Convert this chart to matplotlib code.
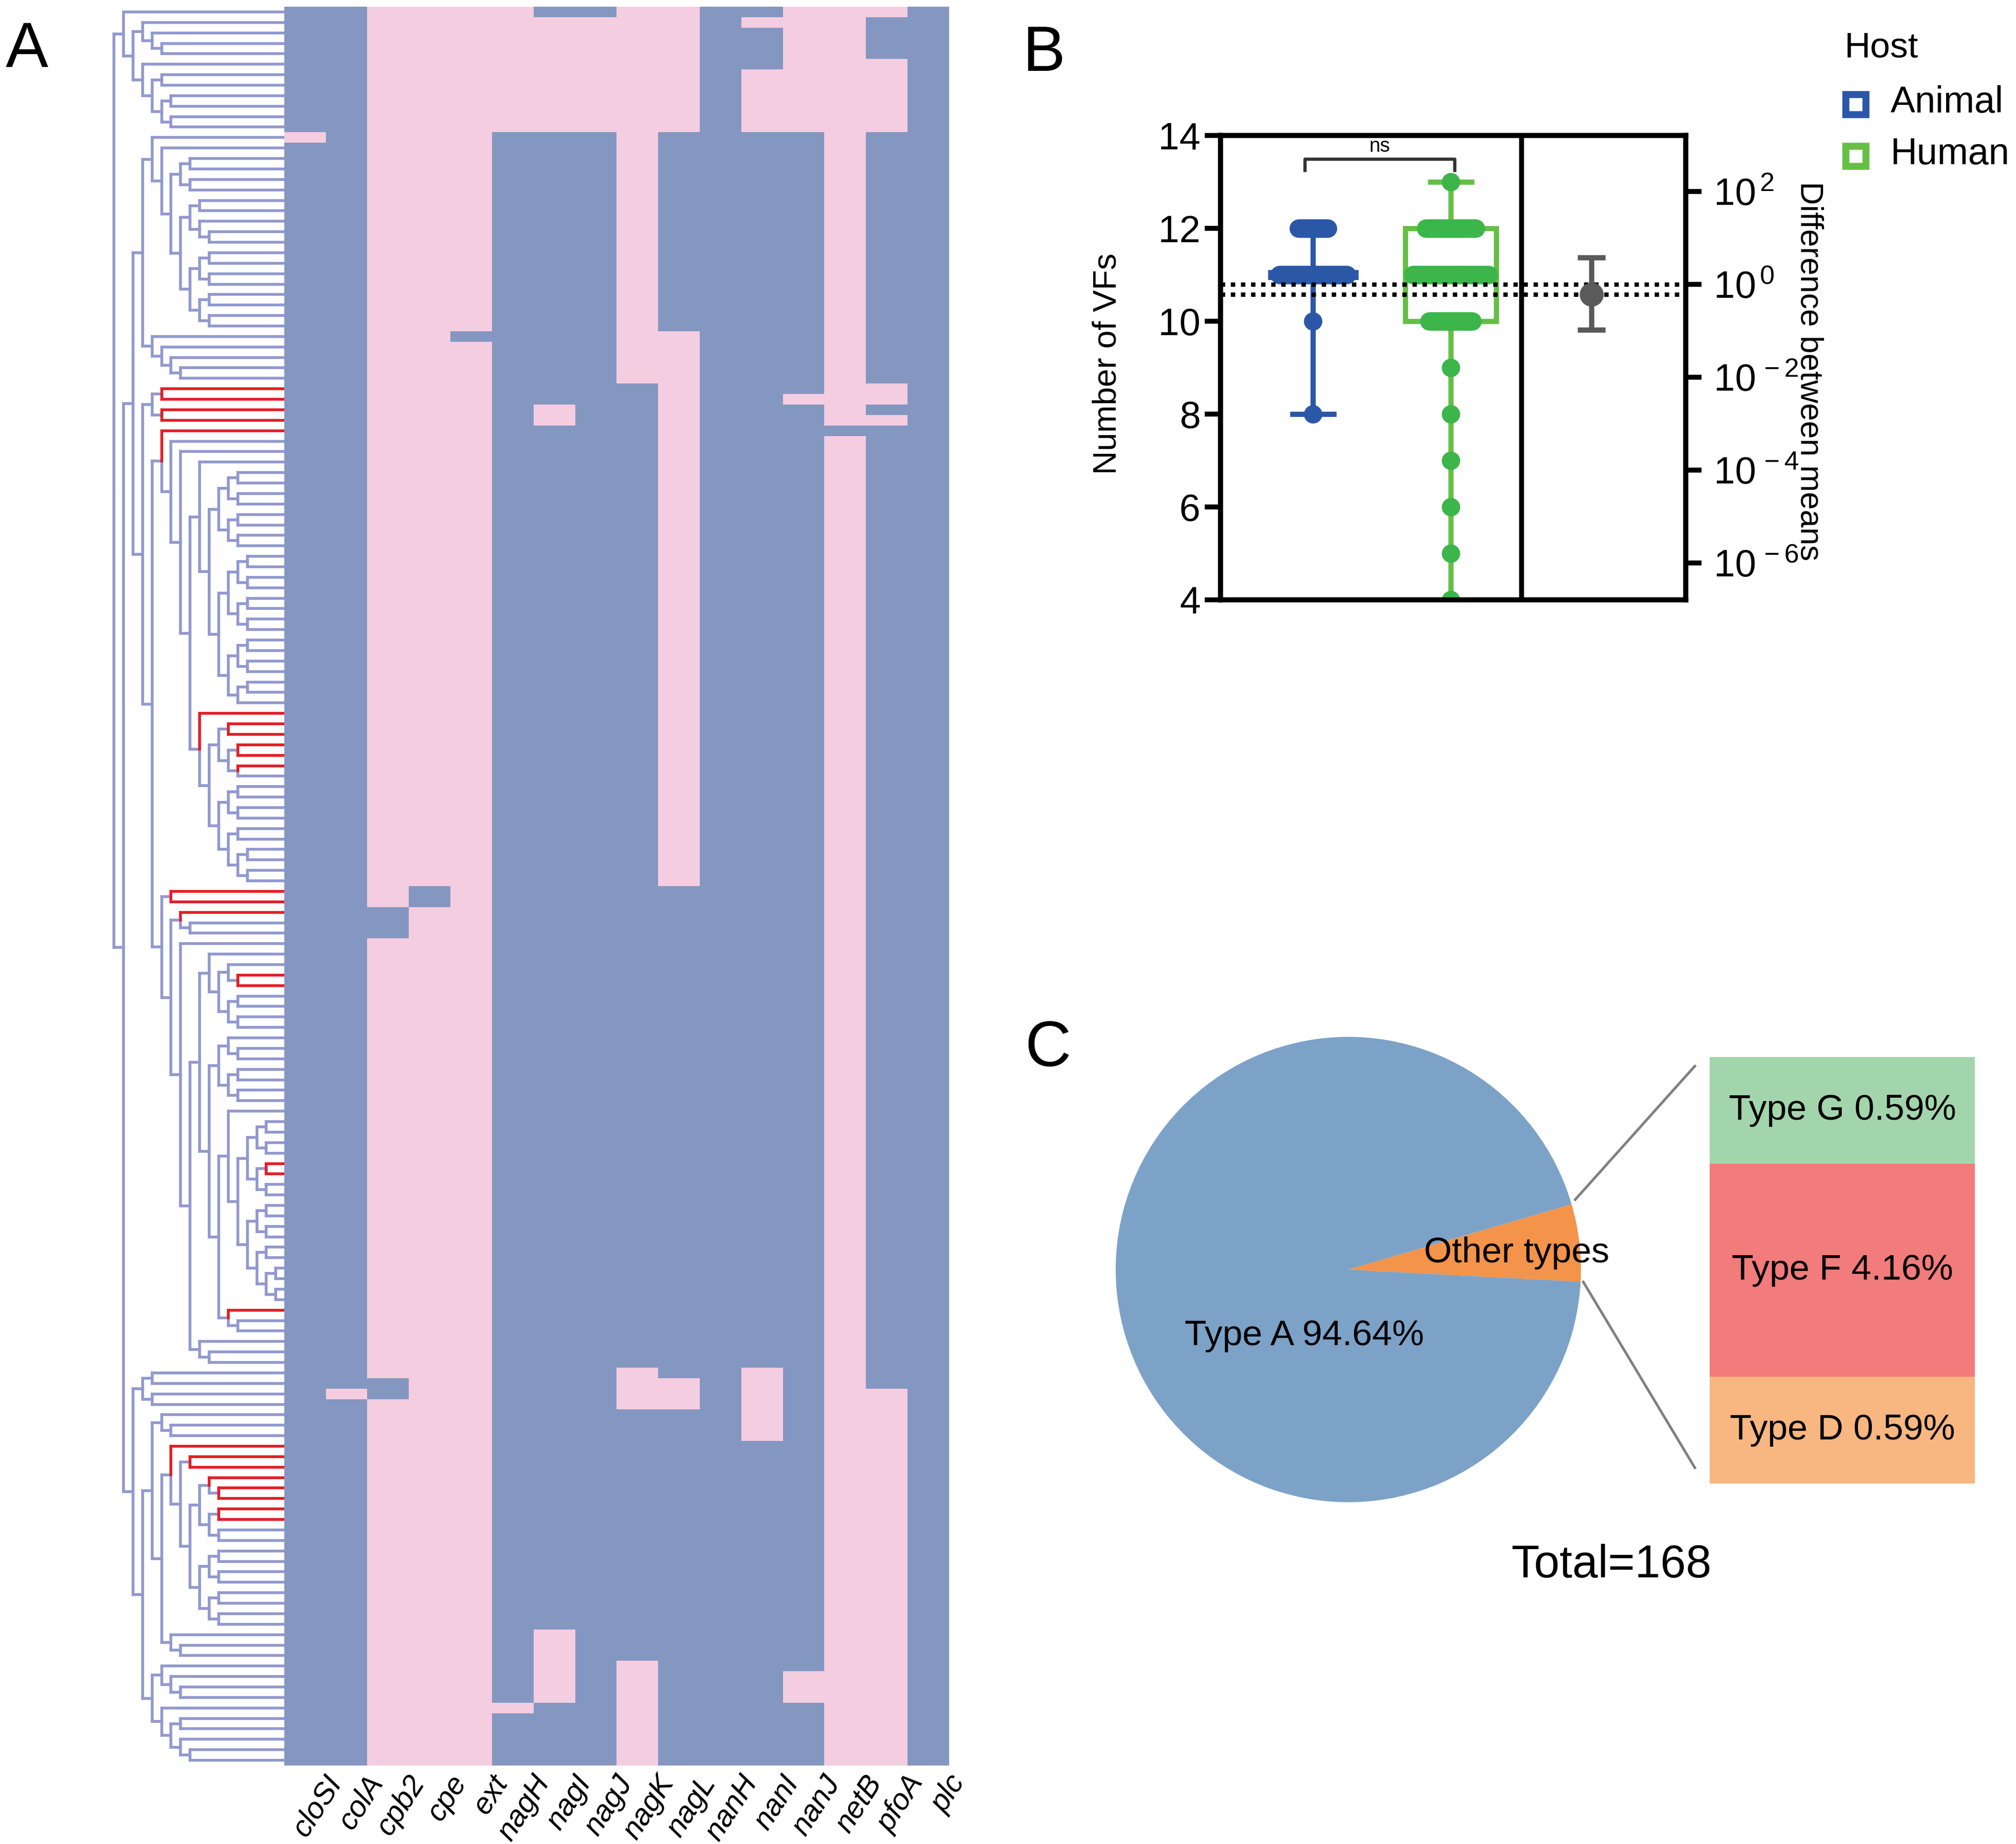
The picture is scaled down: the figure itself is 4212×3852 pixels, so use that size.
import numpy as np
import matplotlib
matplotlib.use("Agg")
import matplotlib.pyplot as plt
from matplotlib.colors import ListedColormap
from matplotlib.patches import Rectangle
from matplotlib.collections import LineCollection
from matplotlib.ticker import NullLocator

plt.rcParams['font.family'] = ['Liberation Sans', 'DejaVu Sans']
plt.rcParams['mathtext.fontset'] = 'custom'
plt.rcParams['mathtext.rm'] = 'Liberation Sans'
plt.rcParams['mathtext.it'] = 'Liberation Sans:italic'
plt.rcParams['mathtext.bf'] = 'Liberation Sans:bold'

# ======================= DATA =======================
# ---- Panel A: virulence factor presence (1 = present / blue, 0 = absent / pink)
genes = ['cloSI', 'colA', 'cpb2', 'cpe', 'ext', 'nagH', 'nagI', 'nagJ',
         'nagK', 'nagL', 'nanH', 'nanI', 'nanJ', 'netB', 'pfoA', 'plc']
n_isolates = 168
gene_default = [1, 1, 0, 0, 0, 1, 1, 1, 1, 1, 1, 1, 1, 0, 1, 1]
# isolate rows (inclusive ranges, top to bottom) that differ from the default state
gene_exceptions = {
    'cloSI': [(12, 12)],
    'colA':  [(132, 132)],
    'cpb2':  [(86, 88), (131, 132)],
    'cpe':   [(84, 85)],
    'ext':   [(31, 31)],
    'nagH':  [(0, 11), (162, 162)],
    'nagI':  [(1, 11), (38, 39), (155, 161)],
    'nagJ':  [(1, 11)],
    'nagK':  [(0, 35), (130, 133), (158, 167)],
    'nagL':  [(0, 11), (31, 83), (131, 133)],
    'nanH':  [],
    'nanI':  [(1, 1), (6, 11), (130, 136)],
    'nanJ':  [(0, 11), (37, 37), (159, 161)],
    'netB':  [(40, 40)],
    'pfoA':  [(0, 0), (5, 11), (36, 37), (39, 39), (132, 167)],
    'plc':   [],
}
# isolates whose tree branches are highlighted in red
red_isolates = (list(range(36, 41)) + list(range(67, 73)) + [84, 85, 86, 92, 93, 110, 111, 124]
                + list(range(137, 145)))

# tree topology (leaf labels = isolate rows, top to bottom)
clade_T1 = "(0,((1,(2,(3,4))),(5,((6,7),((8,9),(10,11))))))"
clade_M = "(12,(13,(((14,15),(16,17)),(((18,19),(20,(21,22))),(((23,24),(25,26)),((27,28),(29,30)))))))"
clade_N2 = "(31,(32,(33,(34,35))))"
clade_W1 = "((36,37),(38,39))"
clade_a = "(((44,45),(46,47)),((48,49),(50,51)))"
clade_b1 = "(((52,53),(54,55)),((56,57),(58,59)))"
clade_b2 = "(((60,61),(62,63)),((64,65),66))"
clade_P = "((68,69),((70,71),(72,73)))"
clade_Q = "(((74,75),(76,77)),((78,79),((80,81),(82,83))))"
clade_S = "((91,(92,93)),((94,95),(96,97)))"
clade_R1b1 = "((98,(99,100)),((101,102),(103,104)))"
clade_T1x = "(((106,107),(108,109)),((110,111),(112,113)))"
clade_T2x = "(((114,115),(116,117)),((118,119),((120,121),(122,123))))"
clade_U = "(124,(125,126))"
clade_R2 = "(127,(128,129))"
clade_N315 = "((140,(141,142)),((143,144),(145,146)))"
clade_N700 = "(((147,148),(149,150)),((151,152),(153,154)))"
clade_N955 = "(155,(156,157))"
clade_N1215 = "((158,(159,(160,161))),(162,((163,164),(165,(166,167)))))"

clade_Z1 = "(43,(" + clade_a + ",(" + clade_b1 + "," + clade_b2 + ")))"
clade_Z2 = "(67,(" + clade_P + "," + clade_Q + "))"
clade_X1 = "(40,(41,(42,(" + clade_Z1 + "," + clade_Z2 + "))))"
clade_R1b2 = "((105,(" + clade_T1x + "," + clade_T2x + "))," + clade_U + ")"
clade_R = "(((90," + clade_S + "),(" + clade_R1b1 + "," + clade_R1b2 + "))," + clade_R2 + ")"
clade_X2 = "((84,85),((86,(87,88)),(89," + clade_R + ")))"
clade_U1 = "((" + clade_M + "," + clade_N2 + "),(" + clade_W1 + ",(" + clade_X1 + "," + clade_X2 + ")))"
clade_N175 = "(137,((138,139),(" + clade_N315 + "," + clade_N700 + ")))"
clade_U2 = ("(((130,131),(132,133)),(((134,(135,136)),(" + clade_N175 + "," + clade_N955 + ")),"
            + clade_N1215 + "))")
tree_newick = "(" + clade_T1 + ",(" + clade_U1 + "," + clade_U2 + "))"

# ---- Panel B: number of VFs by host
animal_vf_values = [8, 10, 11, 12]
animal_vf_counts = [1, 1, 40, 18]
human_vf_values = [4, 5, 6, 7, 8, 9, 10, 11, 12, 13]
human_vf_counts = [1, 1, 1, 1, 1, 1, 26, 45, 30, 1]
animal_box = [8, 11, 11, 11, 12]     # min, q1, median, q3, max
human_box = [4, 10, 11, 12, 13]
group_means = [10.79, 10.58]         # dotted lines (Animal, Human)
diff_estimate = 0.62                 # difference between means (right log axis)
diff_ci = [0.107, 3.8]
left_ticks = [4, 6, 8, 10, 12, 14]
right_tick_exp = [2, 0, -2, -4, -6]
host_names = ['Animal', 'Human']

# ---- Panel C: toxinotypes
pie_labels = ['Other types', 'Type A 94.64%']
pie_percent = [5.36, 94.64]
other_labels = ['Type D 0.59%', 'Type F 4.16%', 'Type G 0.59%']   # bottom -> top
other_bar_size = [1, 2, 1]
total_label = 'Total=168'

# ======================= STYLE =======================
W, H, DPI = 4212, 3852, 300
tree_blue = '#9299CF'
tree_red = '#E41E26'
heat_blue = '#8497C1'
heat_pink = '#F5CDE1'
animal_col = '#2B57A7'
human_line = '#66BF45'
human_dot = '#3CB54A'
diff_col = '#5A5A5A'
pie_cols = ['#F3944A', '#7DA2C7']
bar_cols = ['#F8B680', '#F27B7C', '#A3D5AC']

fig = plt.figure(figsize=(W / DPI, H / DPI), dpi=DPI)


def box(x0, y0, x1, y1):
    return [x0 / W, 1 - y1 / H, (x1 - x0) / W, (y1 - y0) / H]


# overlay axes in pixel coordinates for free text / connectors
ax_over = fig.add_axes([0, 0, 1, 1], zorder=10)
ax_over.set_xlim(0, W)
ax_over.set_ylim(H, 0)
ax_over.axis('off')
ax_over.patch.set_alpha(0)

# ======================= PANEL A =======================
HEAT_X0, HEAT_X1, HEAT_Y0, HEAT_Y1 = 594, 1983, 14, 3688
ax_heat = fig.add_axes(box(HEAT_X0, HEAT_Y0, HEAT_X1, HEAT_Y1))
mat = np.zeros((n_isolates, len(genes)))
for j, g in enumerate(genes):
    mat[:, j] = gene_default[j]
    for a, b in gene_exceptions[g]:
        mat[a:b + 1, j] = 1 - gene_default[j]
ax_heat.imshow(mat, aspect='auto', cmap=ListedColormap([heat_pink, heat_blue]), vmin=0, vmax=1,
               interpolation='nearest', extent=(0, len(genes), n_isolates, 0))
ax_heat.set_xlim(0, len(genes))
ax_heat.set_ylim(n_isolates, 0)
ax_heat.set_xticks([])
ax_heat.set_yticks([])
for s in ax_heat.spines.values():
    s.set_visible(False)
for j, g in enumerate(genes):
    ax_heat.text(j + 0.95, n_isolates + 0.45, g, rotation=57, rotation_mode='anchor',
                 ha='right', va='top', fontsize=15, fontstyle='italic', clip_on=False)

# dendrogram
def parse_newick(s):
    pos = 0

    def node():
        nonlocal pos
        if s[pos] == '(':
            pos += 1
            kids = [node()]
            while s[pos] == ',':
                pos += 1
                kids.append(node())
            pos += 1
            return kids
        j = pos
        while s[pos].isdigit():
            pos += 1
        return int(s[j:pos])
    return node()


tree = parse_newick(tree_newick)
red_set = set(red_isolates)
LEAF_X = 17.8
segs_blue, segs_red = [], []
leaf_counter = [0]


def layout(n, depth):
    if isinstance(n, int):
        y = leaf_counter[0] + 0.5
        leaf_counter[0] += 1
        return y
    ys = [layout(k, depth + 1) for k in n]
    yp = (ys[0] + ys[-1]) / 2
    for k, yk in zip(n, ys):
        leaf = isinstance(k, int)
        xe = LEAF_X if leaf else depth + 1
        tgt = segs_red if (leaf and k in red_set) else segs_blue
        tgt.append([(depth, yp), (depth, yk)])
        tgt.append([(depth, yk), (xe, yk)])
    return yp


layout(tree, 0)
ax_tree = fig.add_axes(box(200, HEAT_Y0, HEAT_X0, HEAT_Y1))
px_per_level = 19.9
ax_tree.set_xlim((200 - 238) / px_per_level, (HEAT_X0 - 238) / px_per_level)
ax_tree.set_ylim(n_isolates, 0)
ax_tree.add_collection(LineCollection(segs_blue, colors=tree_blue, linewidths=1.4, capstyle='projecting'))
ax_tree.add_collection(LineCollection(segs_red, colors=tree_red, linewidths=1.4, capstyle='projecting'))
ax_tree.axis('off')

ax_over.text(12, 140, 'A', fontsize=32, ha='left', va='baseline')

# ======================= PANEL B =======================
BX0, BY0, BX1, BY1 = 2550, 283, 3522, 1253
axB = fig.add_axes(box(BX0, BY0, BX1, BY1))
axB.set_xlim(0, 1)
axB.set_ylim(4, 14)
SP_LW = 2.5
for s in axB.spines.values():
    s.set_linewidth(SP_LW)
axB.set_xticks([])
axB.set_yticks(left_ticks)
axB.tick_params(axis='y', direction='out', length=8, width=SP_LW, labelsize=19, pad=2)

x_animal, x_human, x_sep, x_diff = 0.199, 0.495, 0.647, 0.797
axB.axvline(x_sep, color='k', lw=SP_LW)

DOT_STEP = 0.0037
DOT_S = 85


def draw_group(x, stats, line_col, med_col, dot_col, values, counts, box_w=0.195, cap_w=0.1):
    mn, q1, med, q3, mx = stats
    kw = dict(color=line_col, lw=2.6, solid_capstyle='butt', zorder=2)
    axB.plot([x, x], [q3, mx], **kw)
    axB.plot([x, x], [mn, q1], **kw)
    axB.plot([x - cap_w / 2, x + cap_w / 2], [mx, mx], **kw)
    axB.plot([x - cap_w / 2, x + cap_w / 2], [mn, mn], **kw)
    if q3 > q1:
        axB.add_patch(Rectangle((x - box_w / 2, q1), box_w, q3 - q1, fill=False,
                                ec=line_col, lw=2.6, zorder=2))
    axB.plot([x - box_w / 2, x + box_w / 2], [med, med], color=med_col, lw=5,
             solid_capstyle='butt', zorder=2)
    for v, c in zip(values, counts):
        offs = (np.arange(c) - (c - 1) / 2) * DOT_STEP
        axB.scatter(x + offs, np.full(c, v), s=DOT_S, color=dot_col, lw=0, zorder=3)


draw_group(x_animal, animal_box, animal_col, animal_col, animal_col, animal_vf_values, animal_vf_counts)
draw_group(x_human, human_box, human_line, human_dot, human_dot, human_vf_values, human_vf_counts)

for m in group_means:
    axB.axhline(m, color='k', lw=2.2, ls=(0, (1, 1.3)), zorder=4)

# ns bracket
axB.plot([0.181, 0.181, 0.503, 0.503], [13.22, 13.5, 13.5, 13.22], color='#333333', lw=1.6,
         solid_capstyle='butt')
axB.text(0.342, 13.56, 'ns', ha='center', va='bottom', fontsize=10)

# right estimation axis
axR = axB.twinx()
ref = group_means[0]
axR.set_yscale('log')
axR.set_ylim(10 ** (4 - ref), 10 ** (14 - ref))
axR.set_yticks([10.0 ** e for e in right_tick_exp])
axR.set_yticklabels([r'$\mathregular{10^{\,%d}}$' % e for e in right_tick_exp])
axR.yaxis.set_minor_locator(NullLocator())
axR.tick_params(axis='y', direction='out', length=8, width=SP_LW, labelsize=19, pad=6)
for s in axR.spines.values():
    s.set_linewidth(SP_LW)
axR.errorbar([x_diff], [diff_estimate],
             yerr=[[diff_estimate - diff_ci[0]], [diff_ci[1] - diff_estimate]],
             fmt='o', color=diff_col, ms=11, elinewidth=2.6, capsize=7, capthick=2.6, zorder=5)

ax_over.text(2313, 760, 'Number of VFs', rotation=90, ha='center', va='center', fontsize=16.5)
ax_over.text(3780, 775, 'Difference between means', rotation=270, ha='center', va='center', fontsize=16)

# legend
ax_over.text(3854, 100, 'Host', ha='left', va='center', fontsize=18)
for name, col, yy in zip(host_names, [animal_col, human_line], [218, 326]):
    ax_over.plot([3877], [yy], 's', ms=10, mfc='white', mec=col, mew=3.5)
    ax_over.text(3950, yy - 4, name, ha='left', va='center', fontsize=18.5)

ax_over.text(2137, 148, 'B', fontsize=32, ha='left', va='baseline')

# ======================= PANEL C =======================
PCX, PCY, PR = 2817, 2652, 486
axC = fig.add_axes(box(PCX - PR, PCY - PR, PCX + PR, PCY + PR))
axC.pie(pie_percent, colors=pie_cols, startangle=-3, counterclock=True, radius=1,
        wedgeprops=dict(linewidth=0))
axC.set_xlim(-1, 1)
axC.set_ylim(-1, 1)
axC.set_aspect('equal')
axC.axis('off')
axC.text(0.724, 0.072, pie_labels[0], ha='center', va='center', fontsize=18)
axC.text(-0.19, -0.284, pie_labels[1], ha='center', va='center', fontsize=18)

axBar = fig.add_axes(box(3572, 2208, 4126, 3099))
bottom = 0
for lab, h, col in zip(other_labels, other_bar_size, bar_cols):
    axBar.bar(0, h, bottom=bottom, width=1, color=col, lw=0)
    axBar.text(0, bottom + h / 2, lab, ha='center', va='center', fontsize=18)
    bottom += h
axBar.set_xlim(-0.5, 0.5)
axBar.set_ylim(0, sum(other_bar_size))
axBar.axis('off')

ax_over.plot([3291, 3541], [2506, 2227], color='#808080', lw=1.3)
ax_over.plot([3308, 3541], [2678, 3066], color='#808080', lw=1.3)

ax_over.text(3367, 3270, total_label, ha='center', va='center', fontsize=23)
ax_over.text(2141, 2227, 'C', fontsize=32, ha='left', va='baseline')

fig.savefig('out.png', dpi=DPI)
